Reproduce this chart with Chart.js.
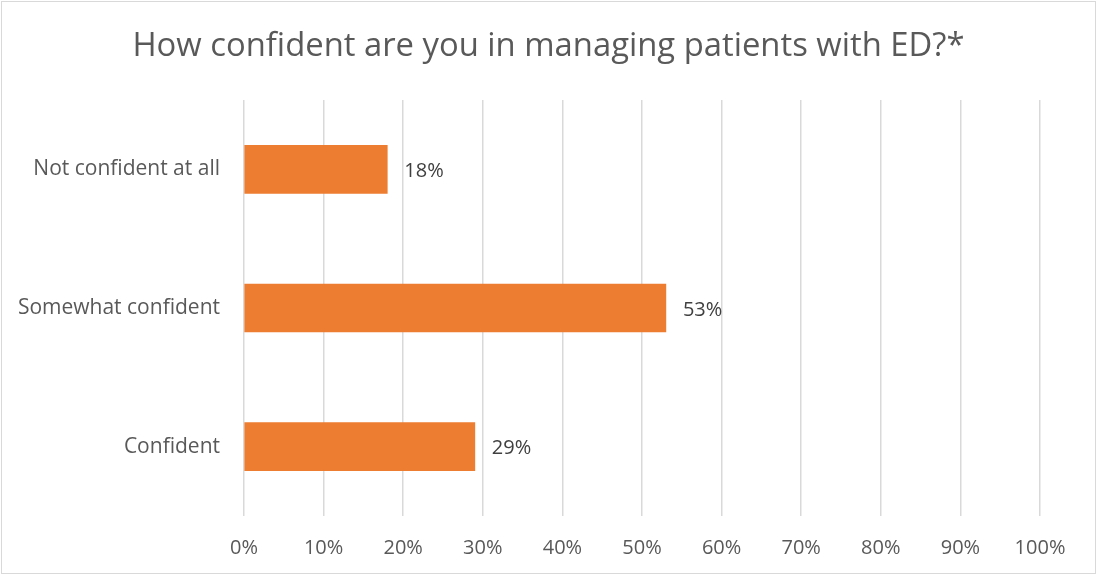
<!DOCTYPE html>
<html>
<head>
<meta charset="utf-8">
<script src="https://cdn.jsdelivr.net/npm/chart.js@4.4.0/dist/chart.umd.min.js"></script>
<style>
  html, body { margin: 0; padding: 0; background: #fff; }
  #wrap { position: relative; width: 1097px; height: 575px; }
</style>
</head>
<body>
<div id="wrap"><canvas id="confChart" width="1097" height="575"></canvas></div>
<script>
const categories = ['Not confident at all', 'Somewhat confident', 'Confident'];
const percentValues = [18, 53, 29];
const tickValues = [0, 10, 20, 30, 40, 50, 60, 70, 80, 90, 100];
const chartTitle = 'How confident are you in managing patients with ED?*';

const fontFamily = '"Open Sans", "Noto Sans", sans-serif';

// title centred on the whole canvas (the built-in one follows layout padding)
const centredTitle = {
    id: 'centredTitle',
    afterDraw(chart) {
        const ctx = chart.ctx;
        ctx.save();
        ctx.font = '32.8px ' + fontFamily;
        ctx.fillStyle = '#595959';
        ctx.textAlign = 'center';
        ctx.textBaseline = 'middle';
        ctx.fillText(chartTitle, chart.width / 2, 47);
        ctx.restore();
    }
};

// value labels at the end of each bar
const barLabels = {
    id: 'barLabels',
    afterDatasetsDraw(chart) {
        const ctx = chart.ctx;
        const meta = chart.getDatasetMeta(0);
        ctx.save();
        ctx.font = '20px ' + fontFamily;
        ctx.fillStyle = '#404040';
        ctx.textAlign = 'left';
        ctx.textBaseline = 'middle';
        meta.data.forEach((bar, i) => {
            ctx.fillText(percentValues[i] + '%', bar.x + 17, bar.y + 2);
        });
        ctx.restore();
    }
};

// thin grey frame around the whole chart
const frame = {
    id: 'frame',
    afterDraw(chart) {
        const ctx = chart.ctx;
        ctx.save();
        ctx.strokeStyle = '#d9d9d9';
        ctx.lineWidth = 1;
        ctx.strokeRect(1.5, 1.5, chart.width - 3, chart.height - 3);
        ctx.restore();
    }
};

const ctx = document.getElementById('confChart').getContext('2d');
const confChart = new Chart(ctx, {
    type: 'bar',
    data: {
        labels: categories,
        datasets: [{
            label: 'Share',
            data: percentValues,
            backgroundColor: '#ED7D31',
            borderWidth: 0,
            barThickness: 48
        }]
    },
    options: {
        indexAxis: 'y',
        responsive: false,
        animation: false,
        layout: {
            padding: { left: 0, right: 57, top: 100, bottom: 0 }
        },
        scales: {
            x: {
                min: 0,
                max: 100,
                afterBuildTicks: (scale) => {
                    scale.ticks = tickValues.map(v => ({ value: v }));
                },
                afterFit: (scale) => { scale.height = 59; },
                grid: {
                    color: '#d9d9d9',
                    lineWidth: 1.5,
                    drawTicks: false
                },
                border: { display: false },
                ticks: {
                    padding: 20,
                    color: '#595959',
                    font: { family: fontFamily, size: 20 },
                    callback: (v) => v + '%'
                }
            },
            y: {
                afterFit: (scale) => { scale.width = 244; },
                grid: { display: false, drawTicks: false },
                border: { display: false },
                ticks: {
                    padding: 24,
                    color: '#595959',
                    font: { family: fontFamily, size: 21 }
                }
            }
        },
        plugins: {
            legend: { display: false },
            tooltip: { enabled: false },
            title: { display: false }
        }
    },
    plugins: [barLabels, centredTitle, frame]
});
</script>
</body>
</html>
